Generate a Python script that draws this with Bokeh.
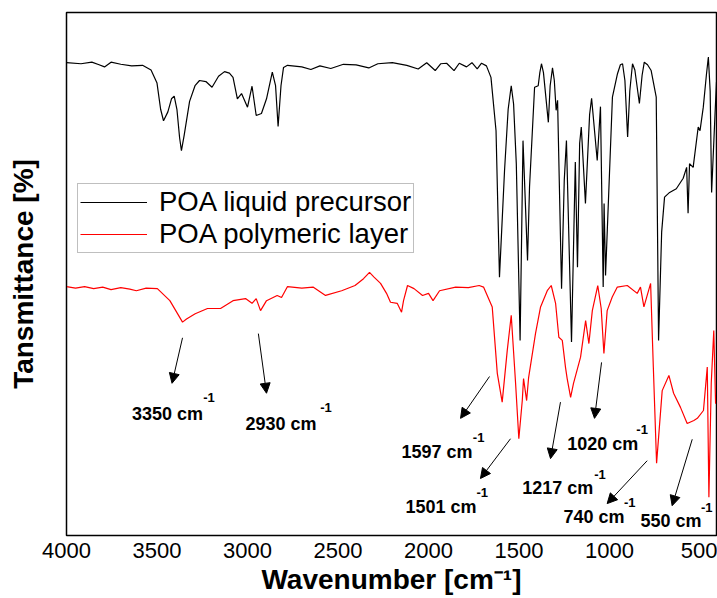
from bokeh.plotting import figure
from bokeh.models import (Range1d, FixedTicker, Legend, LegendItem, Arrow,
                          NormalHead, ColumnDataSource)
from bokeh.core.properties import value
from bokeh.embed import file_html
from bokeh.resources import INLINE

# ---------------- data ----------------
precursor_wn = [4000, 3920, 3860, 3820, 3790, 3754, 3700, 3640, 3580, 3533, 3500, 3480, 3464,
                3440, 3420, 3405, 3390, 3375, 3365, 3350, 3320, 3290, 3265, 3230, 3196, 3160,
                3127, 3100, 3080, 3056, 3033, 3000, 2975, 2952, 2923, 2895, 2863, 2845, 2831,
                2815, 2801, 2779, 2700, 2650, 2600, 2540, 2470, 2400, 2330, 2280, 2200, 2120,
                2057, 2010, 1963, 1933, 1900, 1859, 1830, 1790, 1760, 1731, 1707, 1680, 1655,
                1627, 1608, 1580, 1560, 1543, 1530, 1515, 1494, 1478, 1453, 1442, 1414, 1394,
                1385, 1376, 1365, 1338, 1328, 1315, 1305, 1295, 1287, 1265, 1250, 1238, 1210,
                1189, 1177, 1165, 1156, 1133, 1110, 1099, 1068, 1050, 1035, 1030, 1022, 984,
                956, 940, 928, 915, 900, 888, 873, 860, 835, 820, 808, 790, 770, 742, 729, 712,
                696, 668, 631, 593, 574, 566, 558, 538, 510, 500, 482, 465, 454, 444, 436, 417,
                409]
precursor_t = [90.4, 90.2, 90.5, 90.0, 89.6, 90.5, 90.1, 89.8, 89.9, 89.0, 86.5, 81.5, 79.3,
               81.0, 83.5, 84.0, 81.5, 76.0, 73.6, 76.5, 83.0, 86.0, 87.0, 86.8, 85.7, 87.8,
               88.7, 88.4, 87.6, 83.5, 84.5, 81.9, 85.9, 80.3, 80.7, 83.5, 88.6, 86.0, 78.2,
               86.0, 89.5, 89.9, 89.6, 89.1, 89.8, 89.3, 90.1, 90.0, 89.4, 90.2, 90.4, 89.9,
               89.2, 90.4, 88.9, 90.2, 90.3, 88.9, 90.3, 89.6, 90.4, 89.2, 90.3, 89.8, 87.6,
               77.4, 49.4, 69.8, 81.5, 86.0, 82.5, 71.1, 37.3, 75.5, 52.6, 66.6, 85.7, 86.0,
               88.5, 90.2, 88.5, 79.0, 86.0, 89.4, 87.0, 81.3, 83.2, 47.2, 68.0, 75.5, 37.0,
               71.4, 51.3, 75.0, 78.1, 63.5, 80.5, 83.6, 71.7, 82.0, 47.5, 63.5, 49.7, 83.8,
               88.3, 90.0, 90.2, 87.0, 76.2, 85.0, 90.2, 89.0, 82.6, 88.0, 90.5, 90.0, 88.9,
               83.8, 37.3, 58.0, 64.7, 65.6, 66.3, 68.3, 70.4, 61.6, 71.1, 70.4, 78.1, 77.4,
               81.9, 88.0, 91.5, 85.0, 65.6, 80.7, 86.7]

layer_wn = [4000, 3950, 3900, 3850, 3800, 3754, 3700, 3650, 3614, 3560, 3498, 3429, 3359,
            3337, 3289, 3221, 3149, 3080, 3011, 2975, 2952, 2928, 2895, 2836, 2812, 2779,
            2700, 2638, 2569, 2480, 2406, 2359, 2326, 2301, 2265, 2232, 2210, 2173, 2149,
            2138, 2116, 2080, 2033, 2000, 1975, 1939, 1850, 1780, 1720, 1696, 1648, 1620,
            1593, 1565, 1543, 1519, 1501, 1482, 1475, 1458, 1447, 1409, 1381, 1344, 1322,
            1298, 1280, 1261, 1243, 1234, 1215, 1199, 1160, 1132, 1114, 1095, 1065, 1046,
            1031, 1013, 985, 957, 902, 847, 829, 810, 773, 758, 740, 709, 672, 646, 608,
            571, 534, 515, 481, 460, 451, 438, 424, 414]
layer_t = [47.6, 47.3, 47.6, 47.2, 47.5, 47.0, 47.4, 47.1, 46.8, 47.3, 47.2, 44.9, 40.8,
           41.4, 42.4, 43.4, 43.4, 44.9, 45.3, 44.4, 45.3, 43.0, 44.9, 45.9, 45.5, 47.6,
           47.3, 47.5, 45.9, 46.8, 47.8, 49.1, 50.3, 49.4, 48.2, 46.3, 44.6, 44.4, 42.7,
           44.9, 47.8, 47.2, 45.9, 46.3, 44.9, 46.8, 47.5, 47.4, 47.8, 47.5, 43.7, 31.0,
           25.5, 35.4, 42.1, 29.1, 18.5, 25.8, 30.0, 25.8, 30.2, 38.6, 43.7, 46.8, 47.8,
           44.4, 37.9, 37.3, 32.1, 30.0, 26.4, 29.1, 34.1, 41.1, 36.7, 43.0, 47.8, 43.4,
           34.8, 43.0, 45.6, 47.5, 47.8, 46.3, 47.5, 43.7, 48.2, 32.2, 13.8, 27.7, 30.6,
           27.2, 24.5, 21.4, 22.0, 22.4, 23.9, 32.2, 7.3, 29.1, 39.2, 25.2]

x_ticks = [4000, 3500, 3000, 2500, 2000, 1500, 1000, 500]
series_names = ["POA liquid precursor", "POA polymeric layer"]

# peak annotations: label, label position, superscript position, arrow start, arrow end
ann_text = ["3350 cm", "2930 cm", "1597 cm", "1501 cm", "1217 cm", "1020 cm", "740 cm", "550 cm"]
ann_x = [3638, 3011, 2149, 2127, 1482, 1234, 1254, 829]
ann_y = [23.3, 21.4, 15.9, 5.4, 9.0, 17.5, 3.5, 2.7]
sup_x = [3245, 2598, 1755, 1735, 1085, 852, 920, 495]
sup_y = [26.4, 24.5, 18.7, 8.2, 11.7, 20.3, 6.4, 5.4]
arr_x0 = [3359, 2940, 1663, 1547, 1271, 1044, 792, 543]
arr_y0 = [37.8, 38.6, 30.4, 18.5, 25.5, 33.1, 14.3, 18.4]
arr_x1 = [3417, 2895, 1823, 1713, 1326, 1083, 1013, 654]
arr_y1 = [29.1, 27.2, 22.4, 10.9, 14.7, 22.4, 6.1, 5.7]

FONT = "Liberation Sans"

p = figure(width=717, height=598, output_backend="svg", toolbar_location=None,
           x_range=Range1d(4000, 409), y_range=Range1d(0, 100),
           min_border_left=66, min_border_right=1, min_border_top=12, min_border_bottom=63)
p.background_fill_color = "white"
p.border_fill_color = "white"
p.outline_line_color = "black"
p.outline_line_width = 1.5
p.xgrid.visible = False
p.ygrid.visible = False

r1 = p.line(precursor_wn, precursor_t, line_color="black", line_width=1.2)
r2 = p.line(layer_wn, layer_t, line_color="#ff0000", line_width=1.2)

# axes
p.xaxis.ticker = FixedTicker(ticks=x_ticks)
p.xaxis.major_label_text_font = FONT
p.xaxis.major_label_text_font_size = "22px"
p.xaxis.major_label_text_color = "black"
p.xaxis.major_tick_line_color = None
p.xaxis.minor_tick_line_color = None
p.xaxis.axis_line_color = "black"
p.xaxis.major_label_standoff = 1
p.xaxis.axis_label = "Wavenumber [cm\u207b\u00b9]"
p.xaxis.axis_label_text_font = FONT
p.xaxis.axis_label_text_font_style = "bold"
p.xaxis.axis_label_text_font_size = "28px"
p.xaxis.axis_label_text_color = "black"
p.xaxis.axis_label_standoff = 3

p.yaxis.ticker = FixedTicker(ticks=[])
p.yaxis.major_tick_line_color = None
p.yaxis.minor_tick_line_color = None
p.yaxis.axis_line_color = "black"
p.yaxis.axis_label = "Tansmittance [%]"
p.yaxis.axis_label_text_font = FONT
p.yaxis.axis_label_text_font_style = "bold"
p.yaxis.axis_label_text_font_size = "28px"
p.yaxis.axis_label_text_color = "black"
p.yaxis.axis_label_standoff = 28

# annotations
for i in range(len(ann_text)):
    p.add_layout(Arrow(end=NormalHead(size=10, fill_color="black", line_color="black", line_width=1),
                       x_start=arr_x0[i], y_start=arr_y0[i], x_end=arr_x1[i], y_end=arr_y1[i],
                       line_color="black", line_width=1))

lab_src = ColumnDataSource(dict(x=ann_x, y=ann_y, text=ann_text))
p.text(x="x", y="y", text="text", source=lab_src, text_font=value(FONT),
       text_font_style="bold", text_font_size="18px", text_color="black",
       text_align="left", text_baseline="middle")
sup_src = ColumnDataSource(dict(x=sup_x, y=sup_y, text=["-1"] * len(sup_x)))
p.text(x="x", y="y", text="text", source=sup_src, text_font=value(FONT),
       text_font_style="bold", text_font_size="13px", text_color="black",
       text_align="left", text_baseline="middle")

legend = Legend(items=[LegendItem(label=series_names[0], renderers=[r1]),
                       LegendItem(label=series_names[1], renderers=[r2])],
                location=(11, 282))
legend.label_text_font = FONT
legend.label_text_font_size = "27.5px"
legend.label_text_color = "black"
legend.glyph_width = 67
legend.glyph_height = 28
legend.label_height = 28
legend.label_standoff = 12
legend.padding = 2
legend.spacing = 0
legend.margin = 0
legend.border_line_color = "#808080"
legend.border_line_width = 1
legend.background_fill_alpha = 1.0
p.add_layout(legend)

open("out.html", "w").write(file_html(p, INLINE))
